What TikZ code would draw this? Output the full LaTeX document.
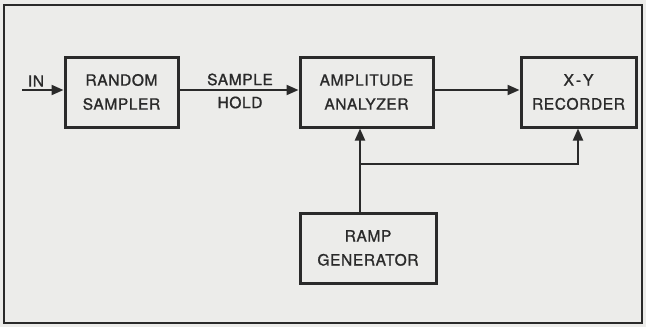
\documentclass[tikz,border=0pt]{standalone}
\usepackage{fontspec}
\setmainfont[LetterSpace=4,FakeBold=1.2]{TeX Gyre Heros}
\usetikzlibrary{arrows.meta}
\definecolor{paper}{HTML}{ECECEA}
\definecolor{ink}{HTML}{2A2A2A}
\begin{document}
\begin{tikzpicture}[x=1pt,y=-1pt,
  blk/.style={draw=ink,line width=3pt,minimum width=#1,minimum height=70pt,inner sep=0pt,align=center,text=ink,font=\fontsize{15.5}{24}\selectfont},
  conn/.style={draw=ink,line width=2pt},
  arr/.style={conn,-{Triangle[length=12pt,width=10pt]}},
  lbl/.style={text=ink,font=\fontsize{15.5}{23}\selectfont,align=center,inner sep=0pt}]
\fill[paper] (0,0) rectangle (646,327);
\useasboundingbox (0,0) rectangle (646,327);
\draw[ink,line width=1.5pt] (4,5) rectangle (642,323);
\node[blk=113pt] (rs) at (121.5,92) {RANDOM\\SAMPLER};
\node[blk=133pt] (aa) at (366.5,92) {AMPLITUDE\\ANALYZER};
\node[blk=115pt] (xy) at (578.5,92) {X\kern2pt-\kern2pt Y\\RECORDER};
\node[blk=136pt] (rg) at (368,248) {RAMP\\GENERATOR};
\coordinate (in) at (22,90);
\node[lbl] (inl) at (36,81) {IN};
\node[lbl] (sh) at (240,91) {SAMPLE\\HOLD};
\coordinate (j) at (360,164);
\coordinate (k) at (578,164);
\draw[arr] (in) -- (rs.west |- in);
\draw[arr] (rs.east |- in) -- (aa.west |- in);
\draw[arr] (aa.east |- in) -- (xy.west |- in);
\draw[conn] (rg.north -| j) -- (j);
\draw[arr] (j) -- (j |- aa.south);
\draw[arr] (j) -- (k) -- (k |- xy.south);
\end{tikzpicture}
\end{document}
